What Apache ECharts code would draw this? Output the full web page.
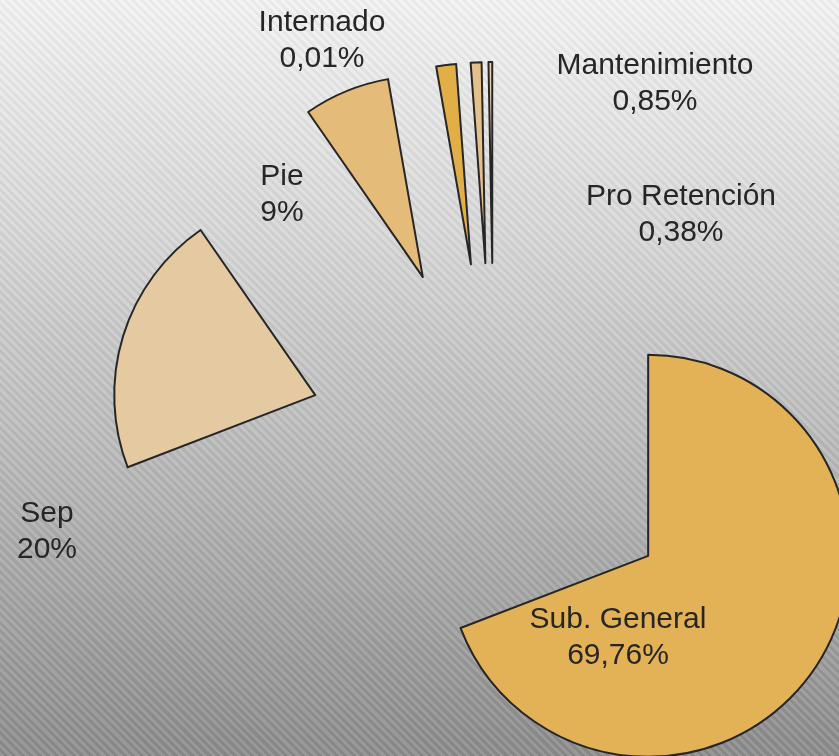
<!DOCTYPE html>
<html>
<head>
<meta charset="utf-8">
<script src="https://cdn.jsdelivr.net/npm/echarts@6/dist/echarts.min.js"></script>
<style>
  html, body { margin: 0; padding: 0; }
  #chart {
    width: 839px; height: 756px;
    background:
      repeating-linear-gradient(45deg, rgba(255,255,255,0.10) 0px, rgba(255,255,255,0.10) 3px, rgba(0,0,0,0.04) 3px, rgba(0,0,0,0.04) 6px),
      linear-gradient(to bottom, #f3f3f3 0%, #d8d8d8 30%, #b4b4b4 65%, #8b8b8b 100%);
  }
</style>
</head>
<body>
<div id="chart"></div>
<script>
// datos (tamaño de cada porción)
var categorias = ['Sub. General', 'Sep', 'Pie', 'Mantenimiento', 'Pro Retención', 'Internado'];
var valores = [69.2, 21.2, 6.9, 1.6, 0.87, 0.3];
// texto de porcentaje que muestra cada etiqueta
var etiquetas = ['69,76%', '20%', '9%', '0,85%', '0,38%', '0,01%'];
var colores = ['#e3b156', '#e5c9a0', '#e4bb78', '#e2ae47', '#e3c08c', '#e8d2b0'];
// posición de cada etiqueta (centro del texto)
var posEtiquetas = [[618, 638], [47, 532], [282, 195], [655, 84], [681, 215], [322, 41]];

var myChart = echarts.init(document.getElementById('chart'));

var datos = categorias.map(function (c, i) {
  return { name: c, value: valores[i], selected: true, itemStyle: { color: colores[i] } };
});

var textos = categorias.map(function (c, i) {
  return {
    type: 'text',
    x: posEtiquetas[i][0],
    y: posEtiquetas[i][1],
    z: 100,
    style: {
      text: c + '\n' + etiquetas[i],
      fill: '#262626',
      font: '30px "Liberation Sans", Arial, sans-serif',
      lineHeight: 36,
      align: 'center',
      verticalAlign: 'middle'
    }
  };
});

var option = {
  backgroundColor: 'transparent',
  animation: false,
  graphic: textos,
  series: [
    {
      type: 'pie',
      center: [494, 450],
      radius: [0, 201],
      startAngle: 90,
      clockwise: true,
      avoidLabelOverlap: false,
      selectedMode: 'multiple',
      selectedOffset: 187,
      data: datos,
      itemStyle: { borderColor: '#262626', borderWidth: 2 },
      select: { itemStyle: { borderColor: '#262626', borderWidth: 2 } },
      emphasis: { disabled: true },
      label: { show: false },
      labelLine: { show: false }
    }
  ]
};

myChart.setOption(option);
</script>
</body>
</html>
